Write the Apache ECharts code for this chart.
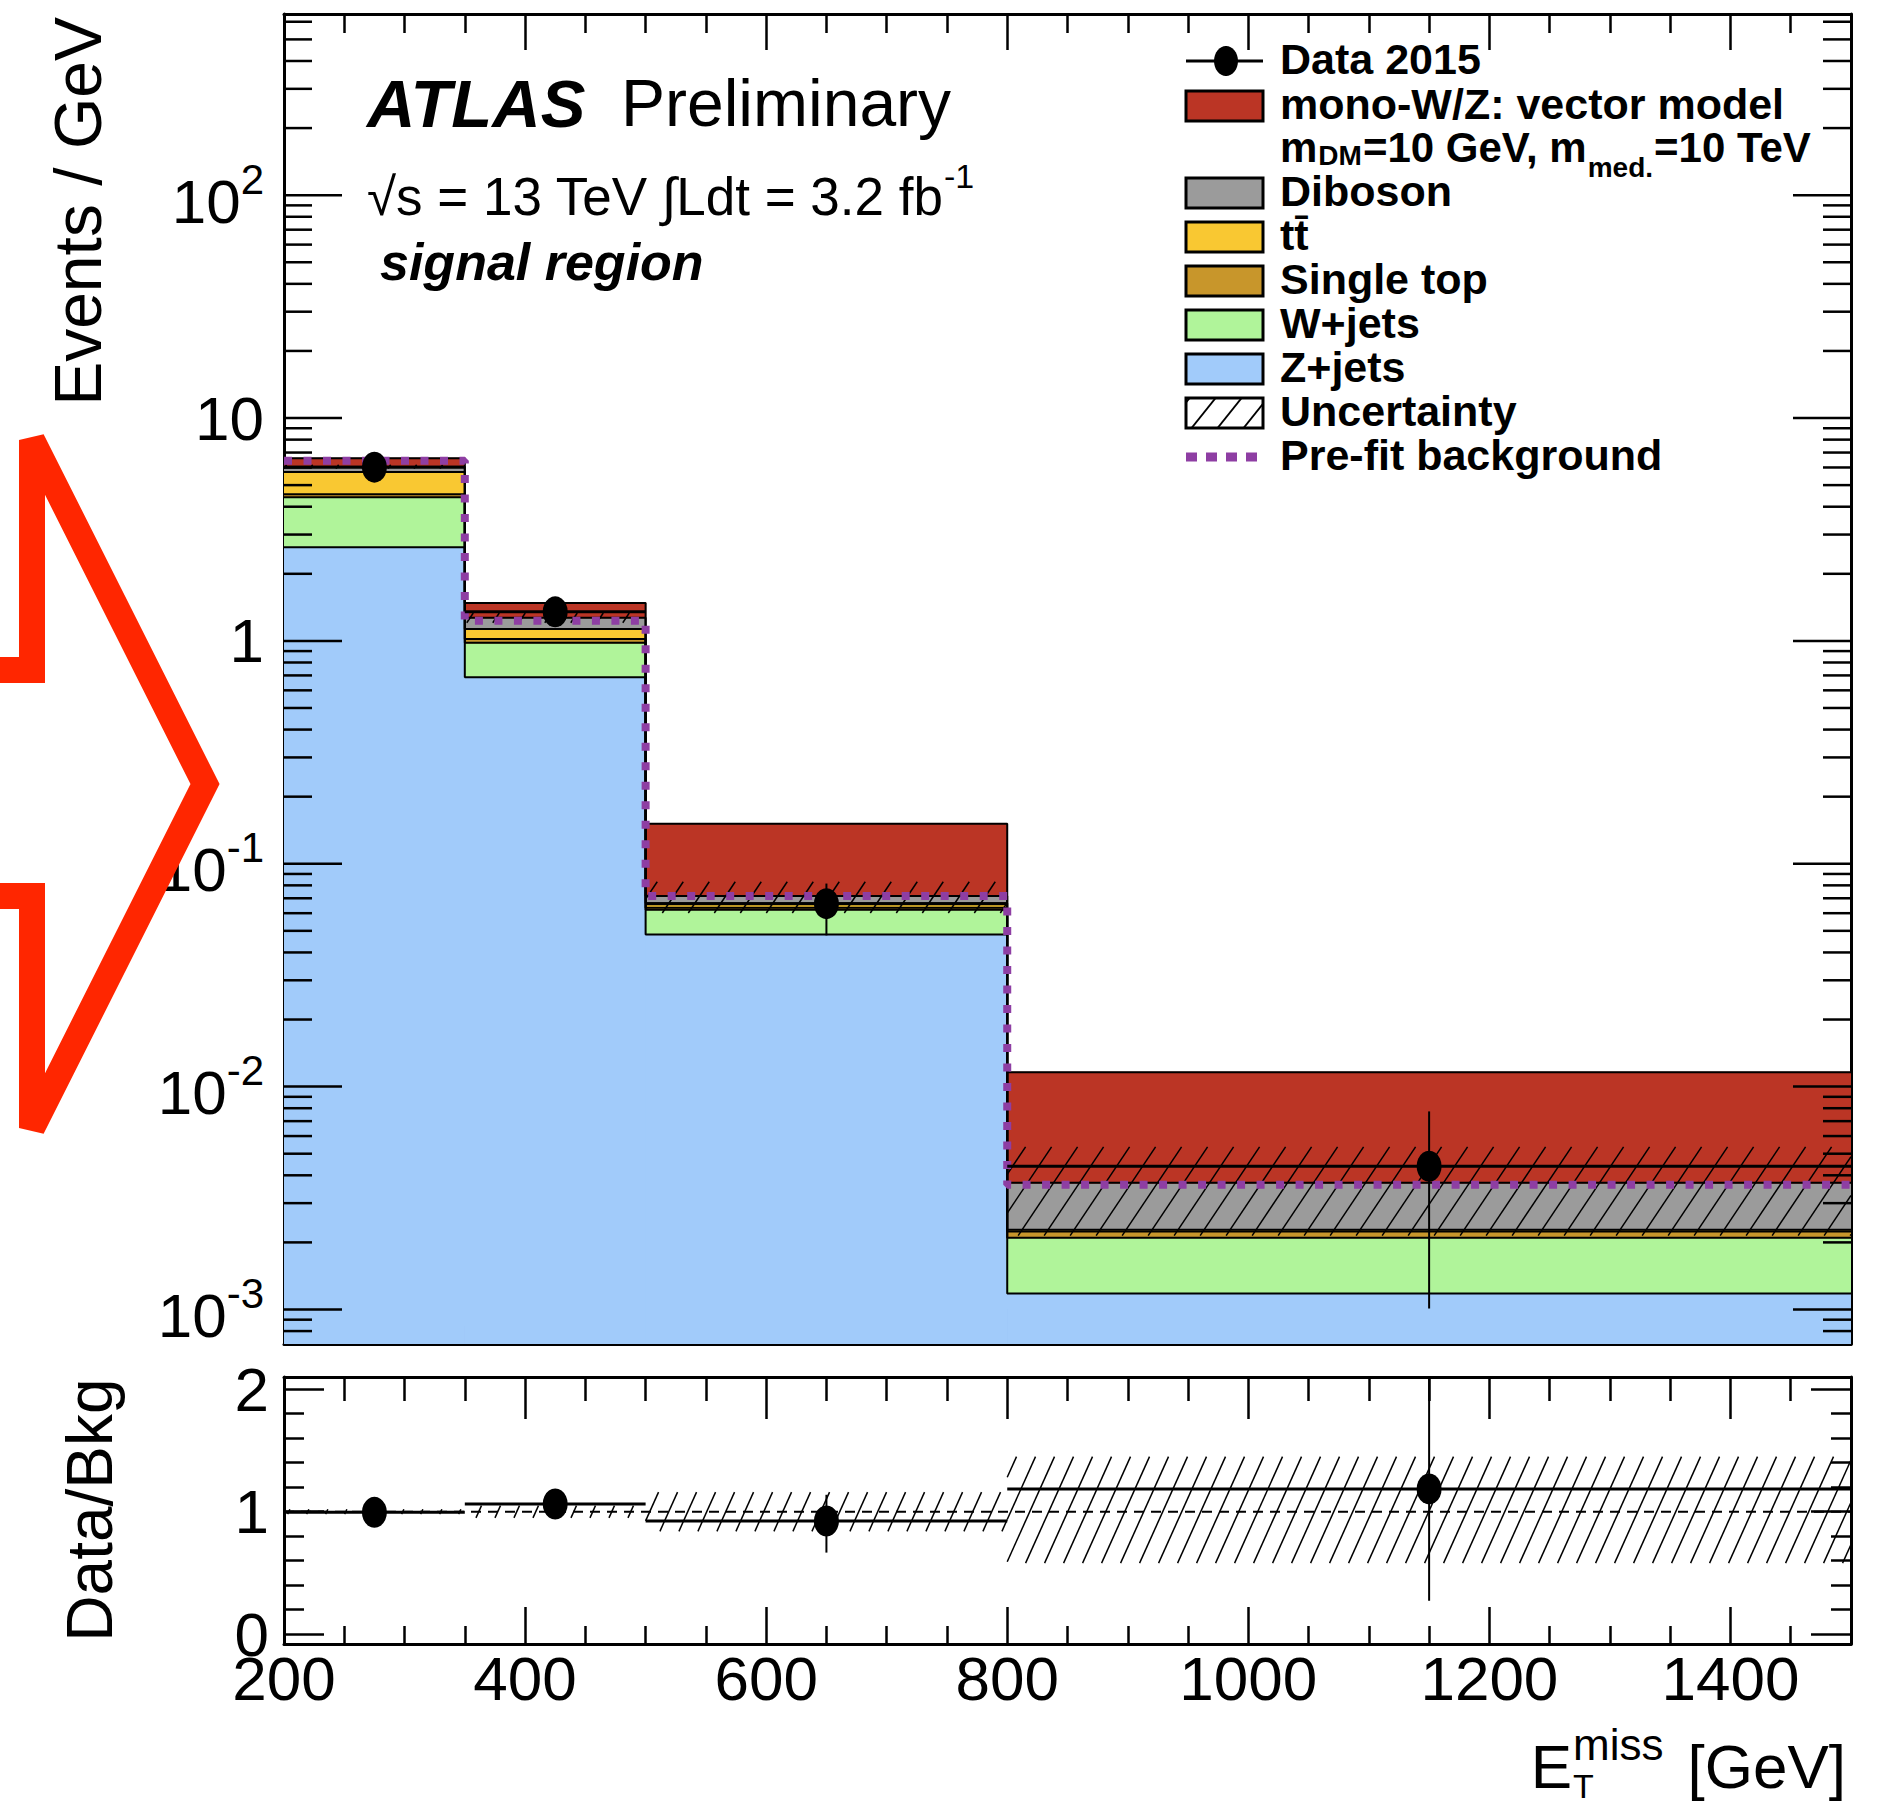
<!DOCTYPE html>
<html>
<head>
<meta charset="utf-8">
<script src="https://cdn.jsdelivr.net/npm/echarts@6/dist/echarts.min.js"></script>
<style>html,body{margin:0;padding:0;background:#fff}#c{width:1892px;height:1810px}</style>
</head>
<body>
<div id="c"></div>
<script>
// ---------------- data (Events / GeV) ----------------
const binEdges    = [200, 350, 500, 800, 1500];
const zJets       = [2.63, 0.687, 0.0482, 0.00118];
const wJets       = [1.78, 0.293, 0.0140, 0.00092];
const singleTop   = [0.14, 0.040, 0.0013, 0.00014];
const ttbar       = [1.17, 0.110, 0.0030, 0.00004];
const diboson     = [0.33, 0.140, 0.0051, 0.00142];
const signalModel = [0.55, 0.210, 0.0794, 0.0079];
const prefitBkg   = [6.43, 1.23, 0.0716, 0.00363];
const dataValues  = [6.02, 1.35, 0.0662, 0.00439];
const dataErrLow  = [5.82, 1.26, 0.0477, 0.00101];
const dataErrHigh = [6.22, 1.45, 0.0815, 0.00774];
const bkgUncLow   = [0.98, 0.95, 0.84, 0.58];   // relative band on total background
const bkgUncHigh  = [1.02, 1.05, 1.16, 1.45];
const xTickLabels = [200, 400, 600, 800, 1000, 1200, 1400];
const ratioTickLabels = [0, 1, 2];
const xRange      = [200, 1500];
const yMainRange  = [7e-4, 650];
const yRatioRange = [-0.08, 2.1];

// ---------------- helpers ----------------
const FONT = '"Liberation Sans", Arial, Helvetica, sans-serif';
const G0 = {left: 284, top: 14, width: 1567, height: 1330};
const G1 = {left: 284, top: 1377, width: 1567, height: 267};
const nB = binEdges.length - 1;
const binLo = binEdges.slice(0, -1), binHi = binEdges.slice(1);
const binCenters = binLo.map((l, i) => (l + binHi[i]) / 2);

function stepPoints(vals) {
  const pts = [];
  for (let b = 0; b < vals.length; b++) { pts.push([binLo[b], vals[b]]); pts.push([binHi[b], vals[b]]); }
  return pts;
}
function rectRender(color) {
  return function (params, api) {
    const a = api.coord([api.value(0), api.value(3)]);
    const b = api.coord([api.value(1), api.value(2)]);
    return {type: 'rect', shape: {x: a[0], y: a[1], width: b[0] - a[0], height: b[1] - a[1]},
      style: {fill: color, stroke: color, lineWidth: 1.2}};
  };
}
function hatchLines(x0, yt, x1, yb, s, k, lw) {
  const out = [];
  const cMin = x0 + yt * k, cMax = x1 + yb * k;
  for (let c = Math.ceil(cMin / s) * s; c <= cMax; c += s) {
    const yA = Math.max(yt, (c - x1) / k), yB = Math.min(yb, (c - x0) / k);
    if (yB - yA > 0.5) out.push({type: 'line', shape: {x1: c - yA * k, y1: yA, x2: c - yB * k, y2: yB}, style: {stroke: '#000', lineWidth: lw}});
  }
  return out;
}
function hatchRender(s, k, lw) {
  return function (params, api) {
    const a = api.coord([api.value(0), api.value(3)]);
    const b = api.coord([api.value(1), api.value(2)]);
    return {type: 'group', children: hatchLines(a[0], a[1], b[0], b[1], s, k, lw)};
  };
}
function errRender(lwH, lwV) {
  return function (params, api) {
    const lo = api.coord([api.value(2), api.value(3)]);
    const hi = api.coord([api.value(2), api.value(5)]);
    const pa = api.coord([api.value(0), api.value(4)]);
    const pb = api.coord([api.value(1), api.value(4)]);
    return {type: 'group', children: [
      {type: 'line', shape: {x1: lo[0], y1: lo[1], x2: hi[0], y2: hi[1]}, style: {stroke: '#000', lineWidth: lwV}},
      {type: 'line', shape: {x1: pa[0], y1: pa[1], x2: pb[0], y2: pb[1]}, style: {stroke: '#000', lineWidth: lwH}}
    ]};
  };
}
const mctx = document.createElement('canvas').getContext('2d');
function fontStr(p) { return (p.it ? 'italic ' : '') + (p.bold ? 'bold ' : '') + p.size + 'px ' + FONT; }
// pieces laid out left to right; y = middle of base text
function textRun(x, y, pieces, align) {
  const ws = pieces.map(p => { mctx.font = fontStr(p); return mctx.measureText(p.t).width; });
  let adv = 0; const xs = [];
  pieces.forEach((p, i) => { xs.push(adv); if (!p.noAdvance) adv += ws[i] + (p.gap || 0); });
  const shift = align === 'right' ? -adv : 0;
  return pieces.map((p, i) => ({
    type: 'text', x: x + xs[i] + shift, y: y + (p.dy || 0), z: 100,
    style: {text: p.t, fontSize: p.size, fontFamily: FONT, fontWeight: p.bold ? 'bold' : 'normal',
            fontStyle: p.it ? 'italic' : 'normal', fill: '#000', align: 'left', verticalAlign: 'middle'}
  }));
}

// ---------------- stacked histogram ----------------
const stackDefs = [
  {name: 'Z+jets', values: zJets, color: '#a1cbfa'},
  {name: 'W+jets', values: wJets, color: '#b0f49a'},
  {name: 'Single top', values: singleTop, color: '#c8962b'},
  {name: 'ttbar', values: ttbar, color: '#f9c832'},
  {name: 'Diboson', values: diboson, color: '#9b9b9b'},
  {name: 'mono-W/Z', values: signalModel, color: '#bb3525'}
];
const series = [];
const cum = new Array(nB).fill(0);
let bkgTotal = null;
stackDefs.forEach((def, si) => {
  const rows = [], tops = [];
  for (let b = 0; b < nB; b++) {
    const lo = cum[b] > 0 ? cum[b] : yMainRange[0];
    const hi = cum[b] + def.values[b];
    rows.push([binLo[b], binHi[b], lo, hi]); tops.push(hi); cum[b] = hi;
  }
  if (def.name === 'Diboson') bkgTotal = cum.slice();
  series.push({type: 'custom', name: def.name, xAxisIndex: 0, yAxisIndex: 0, clip: true, z: 2, silent: true,
    renderItem: rectRender(def.color), encode: {x: [0, 1], y: [2, 3]}, data: rows});
  series.push({type: 'line', name: def.name + ' outline', xAxisIndex: 0, yAxisIndex: 0, z: 3, silent: true,
    symbol: 'none', data: stepPoints(tops), lineStyle: {color: '#000', width: 2}});
});
// uncertainty hatch on main panel
series.push({type: 'custom', name: 'Uncertainty', xAxisIndex: 0, yAxisIndex: 0, clip: true, z: 4, silent: true,
  renderItem: hatchRender(26, 0.67, 1.5), encode: {x: [0, 1], y: [2, 3]},
  data: bkgTotal.map((t, b) => [binLo[b], binHi[b], t * bkgUncLow[b], t * bkgUncHigh[b]])});
// pre-fit background
series.push({type: 'line', name: 'Pre-fit background', xAxisIndex: 0, yAxisIndex: 0, z: 5, silent: true,
  symbol: 'none', data: stepPoints(prefitBkg), lineStyle: {color: '#8e3ea3', width: 8, type: [8, 11.5], cap: 'butt'}});
// data
series.push({type: 'custom', name: 'Data errors', xAxisIndex: 0, yAxisIndex: 0, clip: true, z: 6, silent: true,
  renderItem: errRender(3, 2), encode: {x: [0, 1, 2], y: [3, 4, 5]},
  data: dataValues.map((v, b) => [binLo[b], binHi[b], binCenters[b], dataErrLow[b], v, dataErrHigh[b]])});
series.push({type: 'scatter', name: 'Data 2015', xAxisIndex: 0, yAxisIndex: 0, z: 7, silent: true,
  symbol: 'circle', symbolSize: [25, 31], itemStyle: {color: '#000', opacity: 1},
  data: dataValues.map((v, b) => [binCenters[b], v])});
// log-axis ticks (major/minor) on both sides
const logTicks = [];
for (let e = -4; e <= 3; e++) for (let m = 1; m <= 9; m++) {
  const v = m * Math.pow(10, e);
  if (v > yMainRange[0] && v < yMainRange[1]) logTicks.push([xRange[0], xRange[1], v, m === 1 ? 1 : 0]);
}
series.push({type: 'custom', name: 'log ticks', xAxisIndex: 0, yAxisIndex: 0, z: 8, silent: true,
  encode: {x: [0, 1], y: 2}, data: logTicks,
  renderItem: function (params, api) {
    const L = api.coord([api.value(0), api.value(2)]);
    const R = api.coord([api.value(1), api.value(2)]);
    const len = api.value(3) ? 58 : 28;
    return {type: 'group', children: [
      {type: 'line', shape: {x1: L[0], y1: L[1], x2: L[0] + len, y2: L[1]}, style: {stroke: '#000', lineWidth: 2.5}},
      {type: 'line', shape: {x1: R[0] - len, y1: R[1], x2: R[0], y2: R[1]}, style: {stroke: '#000', lineWidth: 2.5}}
    ]};
  }});

// ---------------- ratio panel ----------------
const ratioVals = dataValues.map((v, b) => v / bkgTotal[b]);
series.push({type: 'custom', name: 'Ratio uncertainty', xAxisIndex: 2, yAxisIndex: 2, clip: true, z: 4, silent: true,
  renderItem: hatchRender(19, 0.45, 1.5), encode: {x: [0, 1], y: [2, 3]},
  data: bkgUncLow.map((l, b) => [binLo[b], binHi[b], l, bkgUncHigh[b]])});
series.push({type: 'line', name: 'unity', xAxisIndex: 2, yAxisIndex: 2, z: 5, silent: true, symbol: 'none',
  data: [[xRange[0], 1], [xRange[1], 1]], lineStyle: {color: '#000', width: 2, type: [10, 7]}});
series.push({type: 'custom', name: 'Ratio errors', xAxisIndex: 2, yAxisIndex: 2, clip: true, z: 6, silent: true,
  renderItem: errRender(3, 2), encode: {x: [0, 1, 2], y: [3, 4, 5]},
  data: ratioVals.map((r, b) => [binLo[b], binHi[b], binCenters[b], dataErrLow[b] / bkgTotal[b], r, dataErrHigh[b] / bkgTotal[b]])});
series.push({type: 'scatter', name: 'Ratio', xAxisIndex: 2, yAxisIndex: 2, z: 7, silent: true,
  symbol: 'circle', symbolSize: [25, 31], itemStyle: {color: '#000', opacity: 1},
  data: ratioVals.map((r, b) => [binCenters[b], r])});

// ---------------- axes ----------------
const axLine = {show: true, onZero: false, lineStyle: {color: '#000', width: 3}};
function xAx(grid, pos, showLabel, major, minor) {
  return {type: 'value', gridIndex: grid, position: pos, min: xRange[0], max: xRange[1], interval: 200,
    axisLine: axLine, splitLine: {show: false},
    axisTick: {show: true, inside: true, length: major, lineStyle: {color: '#000', width: 2.5}},
    minorTick: {show: true, splitNumber: 4, length: minor, lineStyle: {color: '#000', width: 2.5}},
    axisLabel: {show: showLabel, margin: 12, fontSize: 62, lineHeight: 44, fontFamily: FONT, color: '#000',
      formatter: v => (xTickLabels.indexOf(v) >= 0 ? String(v) : '')}};
}
function logAx(pos, showLabel) {
  return {type: 'log', logBase: 10, gridIndex: 0, position: pos, min: yMainRange[0], max: yMainRange[1], splitNumber: 6,
    axisLine: axLine, splitLine: {show: false}, axisTick: {show: false}, minorTick: {show: false},
    axisLabel: {show: showLabel, margin: 20, color: '#000', fontFamily: FONT, fontSize: 62, interval: 0,
      formatter: function (v) {
        const lg = Math.log10(v), e = Math.round(lg);
        if (Math.abs(lg - e) > 1e-6) return '';
        if (e === 0) return '{p|1}';
        if (e === 1) return '{p|10}';
        return '{b|10}{s|' + e + '}';
      },
      rich: {
        p: {fontSize: 62, fontFamily: FONT, color: '#000'},
        b: {fontSize: 62, fontFamily: FONT, color: '#000', lineHeight: 74, verticalAlign: 'bottom'},
        s: {fontSize: 42, fontFamily: FONT, color: '#000', lineHeight: 42, verticalAlign: 'top'}
      }}};
}
function ratioAx(pos, showLabel) {
  return {type: 'value', gridIndex: 1, position: pos, min: yRatioRange[0], max: yRatioRange[1], splitNumber: 2,
    axisLine: axLine, splitLine: {show: false},
    axisTick: {show: true, inside: true, length: 40, lineStyle: {color: '#000', width: 2.5}},
    minorTick: {show: true, splitNumber: 5, length: 20, lineStyle: {color: '#000', width: 2.5}},
    axisLabel: {show: showLabel, margin: 15, fontSize: 62, lineHeight: 44, fontFamily: FONT, color: '#000',
      formatter: v => (ratioTickLabels.indexOf(v) >= 0 ? String(v) : '')}};
}

// ---------------- legend / labels (graphic) ----------------
const graphics = [];
const LX0 = 1186, LX1 = 1263, TX = 1280;
const legendRows = [
  {y: 61, kind: 'data', label: 'Data 2015'},
  {y: 106, kind: 'box', color: '#bb3525', label: 'mono-W/Z: vector model'},
  {y: 193, kind: 'box', color: '#9b9b9b', label: 'Diboson'},
  {y: 237, kind: 'box', color: '#f9c832', label: 'tt\u0304'},
  {y: 281, kind: 'box', color: '#c8962b', label: 'Single top'},
  {y: 325, kind: 'box', color: '#b0f49a', label: 'W+jets'},
  {y: 369, kind: 'box', color: '#a1cbfa', label: 'Z+jets'},
  {y: 413, kind: 'hatch', label: 'Uncertainty'},
  {y: 457, kind: 'prefit', label: 'Pre-fit background'}
];
legendRows.forEach(r => {
  if (r.kind === 'box' || r.kind === 'hatch') {
    graphics.push({type: 'rect', z: 90, shape: {x: LX0, y: r.y - 15, width: LX1 - LX0, height: 30},
      style: {fill: r.kind === 'box' ? r.color : '#fff', stroke: '#000', lineWidth: 3}});
    if (r.kind === 'hatch') hatchLines(LX0, r.y - 15, LX1, r.y + 15, 26, 0.8, 2).forEach(l => { l.z = 91; graphics.push(l); });
  } else if (r.kind === 'data') {
    graphics.push({type: 'line', z: 90, shape: {x1: LX0, y1: r.y, x2: LX1, y2: r.y}, style: {stroke: '#000', lineWidth: 3}});
    graphics.push({type: 'line', z: 90, shape: {x1: 1226, y1: r.y - 15, x2: 1226, y2: r.y + 15}, style: {stroke: '#000', lineWidth: 2}});
    graphics.push({type: 'ellipse', z: 91, shape: {cx: 1226, cy: r.y, rx: 12, ry: 15}, style: {fill: '#000'}});
  } else if (r.kind === 'prefit') {
    graphics.push({type: 'line', z: 90, shape: {x1: LX0, y1: r.y, x2: LX1 - 4, y2: r.y},
      style: {stroke: '#8e3ea3', lineWidth: 9, lineDash: [11, 9]}});
  }
  graphics.push(...textRun(TX, r.y - 2, [{t: r.label, size: 43, bold: true}]));
});
// second line of signal legend entry (one rich text; subscripts via top padding)
graphics.push({type: 'text', x: TX, y: 147, z: 100, style: {
  text: '{a|m}{s|DM}{a|=10 GeV, m}{t|med.}{a|=10 TeV}',
  fontSize: 42, fontWeight: 'bold', fontFamily: FONT, fill: '#000', align: 'left', verticalAlign: 'middle',
  rich: {
    a: {fontSize: 42, fontWeight: 'bold', fontFamily: FONT, fill: '#000', lineHeight: 42, verticalAlign: 'top'},
    s: {fontSize: 28, fontWeight: 'bold', fontFamily: FONT, fill: '#000', lineHeight: 42, verticalAlign: 'top', padding: [15, 1, 0, 1]},
    t: {fontSize: 28, fontWeight: 'bold', fontFamily: FONT, fill: '#000', lineHeight: 42, verticalAlign: 'top', padding: [27, 1, 0, 1]}
  }}});
// ATLAS label
graphics.push(...textRun(367, 103, [{t: 'ATLAS', size: 67, bold: true, it: true}]));
graphics.push(...textRun(621, 103, [{t: 'Preliminary', size: 66}]));
graphics.push(...textRun(367, 196, [
  {t: '\u221As = 13 TeV \u222BLdt = 3.2 fb', size: 53},
  {t: '-1', size: 34, dy: -20}
]));
graphics.push(...textRun(380, 262, [{t: 'signal region', size: 52, bold: true, it: true}]));
// axis titles
graphics.push({type: 'text', x: 78, y: 17, rotation: Math.PI / 2, z: 100,
  style: {text: 'Events / GeV', fontSize: 66, fontFamily: FONT, fill: '#000', align: 'right', verticalAlign: 'middle'}});
graphics.push({type: 'text', x: 90, y: 1510, rotation: Math.PI / 2, z: 100,
  style: {text: 'Data/Bkg', fontSize: 64, fontFamily: FONT, fill: '#000', align: 'center', verticalAlign: 'middle'}});
graphics.push(...textRun(1846, 1766, [
  {t: 'E', size: 62, gap: 1},
  {t: 'T', size: 34, dy: 20, noAdvance: true},
  {t: 'miss', size: 44, dy: -22, gap: 24},
  {t: '[GeV]', size: 62}
], 'right'));
// red annotation arrow
graphics.push({type: 'polyline', z: 200,
  shape: {points: [[0, 670], [32, 670], [32, 440], [205, 784], [32, 1128], [32, 896], [0, 896]]},
  style: {stroke: '#ff2600', lineWidth: 26, fill: null, lineJoin: 'miter', miterLimit: 10}});

const option = {
  animation: false,
  backgroundColor: '#fff',
  grid: [G0, G1],
  xAxis: [xAx(0, 'bottom', false, 35, 18), xAx(0, 'top', false, 36, 19), xAx(1, 'bottom', true, 37, 18), xAx(1, 'top', false, 42, 24)],
  yAxis: [logAx('left', true), logAx('right', false), ratioAx('left', true), ratioAx('right', false)],
  series: series,
  graphic: graphics
};
const chart = echarts.init(document.getElementById('c'), null, {renderer: 'svg', width: 1892, height: 1810});
chart.setOption(option);
</script>
</body>
</html>
